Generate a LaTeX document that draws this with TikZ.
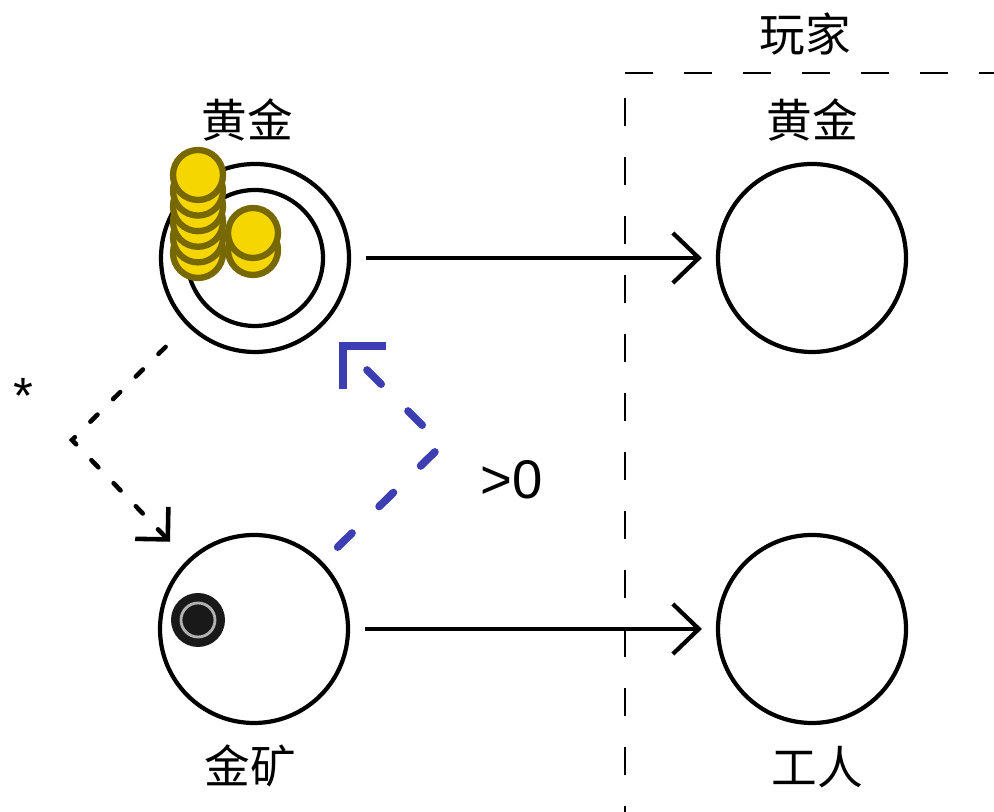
\documentclass[tikz,border=0pt]{standalone}
\usepackage{fontspec}
\setmainfont{Liberation Sans}
\newfontfamily\cjk{Noto Sans CJK SC}
\usetikzlibrary{arrows.meta}
\definecolor{coinfill}{RGB}{245,214,0}
\definecolor{coinedge}{RGB}{120,104,0}
\definecolor{feedblue}{RGB}{60,62,178}

\tikzset{
  pool/.style={circle,draw,line width=1.2pt,minimum size=1.88cm,inner sep=0pt},
  coin/.style={fill=coinfill,draw=coinedge,line width=1.8pt},
  flow/.style={line width=1.2pt,-{Straight Barb[length=0.26cm,width=0.5cm]},shorten <=0.15cm,shorten >=0.14cm},
  ruleline/.style={line width=1.3pt,line cap=round,dash pattern=on 0.1cm off 0.22cm,-{Straight Barb[length=0.23cm,width=0.46cm]},shorten <=0.3cm,shorten >=0.25cm},
  feedline/.style={feedblue,line width=2.2pt,line cap=round,dash pattern=on 0.2cm off 0.38cm,-{Straight Barb[length=0.3cm,width=0.6cm]},shorten <=0.21cm,shorten >=0.23cm},
  lab/.style={font=\cjk\fontsize{13}{15}\selectfont},
  boundary/.style={line width=0.8pt,dash pattern=on 0.28cm off 0.31cm}
}

\begin{document}
\begin{tikzpicture}
\useasboundingbox (0,0) rectangle (9.94,8.12);

% player area
\draw[boundary] (6.25,7.39) -- (9.94,7.39);
\draw[boundary] (6.25,7.14) -- (6.25,0);
\node[lab] (playerLab) at (8.05,7.78) {玩家};

% pools
\node[pool] (pool) at (2.55,5.54) {};
\draw[line width=1.2pt] (pool.center) circle (0.68);
\node[pool] (playerGold) at (8.12,5.54) {};
\node[pool] (mine) at (2.54,1.83) {};
\node[pool] (worker) at (8.12,1.83) {};

\node[lab] (poolLab) at (2.47,6.92) {黄金};
\node[lab] (goldLab) at (8.12,6.92) {黄金};
\node[lab] (mineLab) at (2.50,0.46) {金矿};
\node[lab] (workerLab) at (8.17,0.45) {工人};

% coins
\foreach \k in {0,...,5}
  \draw[coin] (1.98,{5.59+0.156*\k}) circle (0.25);
\foreach \k in {0,1}
  \draw[coin] (2.53,{5.62+0.17*\k}) circle (0.25);

% worker token
\fill[black!90] (1.98,1.92) circle (0.27);
\draw[gray!60,line width=0.8pt] (1.98,1.92) circle (0.17);

% connections
\draw[flow] (pool) -- (playerGold);
\draw[flow] (mine) -- (worker);

\coordinate (bendL) at (0.72,3.72);
\coordinate (bendR) at (4.42,3.67);
\draw[ruleline] (pool) -- (bendL) -- (mine);
\draw[feedline] (mine) -- (bendR) -- (pool);

\node (ruleStar) at (0.23,4.16) {\fontsize{14.5}{16}\selectfont *};
\node (condLab) at (5.12,3.32) {\fontsize{15.5}{18}\selectfont >0};
\end{tikzpicture}
\end{document}
